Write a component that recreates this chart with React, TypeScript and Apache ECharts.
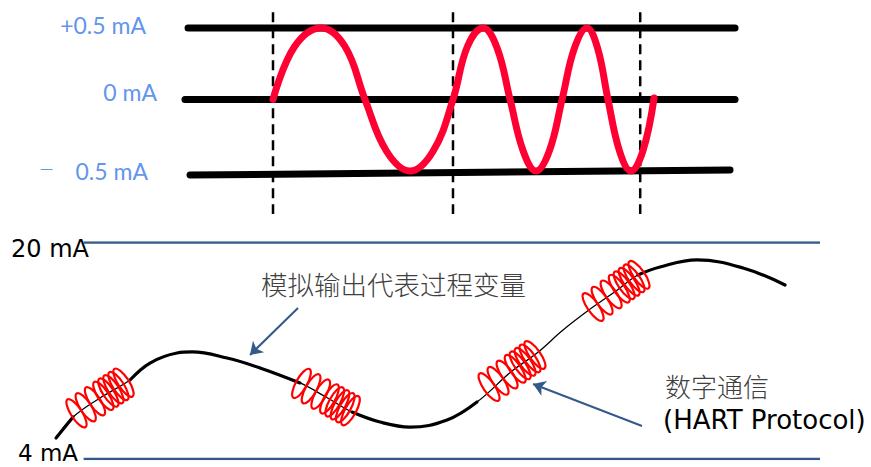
import React, { useEffect, useRef } from 'react';
import * as echarts from 'echarts';

// ---------- Top panel: FSK signal (x in bit times, y in mA) ----------
const railTop: [number, number][] = [[-0.472, 0.5], [2.567, 0.5]];
const railMid: [number, number][] = [[-0.489, 0.0], [2.567, 0.0]];
const railBottom: [number, number][] = [[-0.461, -0.528], [2.539, -0.493]];
const bitBoundaries: number[] = [0, 1, 2.04];
const dividerSpan: [number, number] = [0.61, -0.8];
const fskWave: [number, number][] = [
  [0.0, 0], [0.12, 0.37], [0.267, 0.5], [0.4, 0.37], [0.511, 0], [0.63, -0.36], [0.761, -0.5], [0.89, -0.36],
  [1.0, 0], [1.08, 0.37], [1.167, 0.5], [1.245, 0.36], [1.317, 0], [1.39, -0.36], [1.461, -0.5], [1.535, -0.36],
  [1.606, 0], [1.675, 0.36], [1.744, 0.5], [1.803, 0.36], [1.861, 0], [1.925, -0.36], [1.989, -0.5], [2.055, -0.36],
  [2.117, 0.01],
];
const levelLabels: string[] = ['+0.5 mA', '0 mA', '0.5 mA'];
const minusSign = '—';

// ---------- Bottom panel: 4-20 mA loop (x in time units, y in mA) ----------
const loopLimits: number[] = [20, 4];
const loopSpan: [number, number] = [1.0, 11.0];
const analogCurve: [number, number][] = [
  [0.625, 5.55], [0.856, 7.10], [1.222, 8.51], [1.630, 9.84], [1.901, 11.09], [2.268, 11.83],
  [2.472, 11.91], [2.947, 11.46], [3.395, 10.73], [3.938, 9.62], [4.291, 8.58], [4.645, 7.47],
  [5.025, 6.73], [5.432, 6.36], [5.935, 6.88], [6.342, 8.21], [6.817, 10.50], [7.157, 11.83],
  [7.510, 13.53], [7.917, 15.23], [8.230, 16.42], [8.528, 17.60], [8.827, 18.19], [9.330, 18.71],
  [9.955, 18.12], [10.525, 16.86],
];
// thick parts of the curve (index ranges into analogCurve)
const thickParts: [number, number][] = [[0, 1], [3, 9], [11, 15], [21, 25]];
// HART bursts: [time, mA, direction in degrees]
const hartBursts: [number, number, number][] = [
  [1.222, 8.51, 33],
  [4.291, 8.58, -29],
  [6.817, 10.50, 35],
  [8.230, 16.42, 35],
];
const pointerArrows: [number, number][][] = [
  [[3.911, 15.16], [3.259, 11.69]],
  [[8.583, 6.44], [7.103, 9.54]],
];
const axisLabelsBottom: string[] = ['20 mA', '4 mA'];
const analogCaption = '模拟输出代表过程变量';
const digitalCaption = '数字通信';
const protocolCaption = '(HART Protocol)';

const loopOffsets = [-28, -17, -6, 4, 10, 16, 22, 28];

export default function App() {
  const ref = useRef<HTMLDivElement>(null);
  useEffect(() => {
    if (!ref.current) return;
    const chart = echarts.init(ref.current, null, { renderer: 'svg' });
    const blue = '#6495ED';
    const navy = '#335A8A';
    const latin = 'Lato, "Noto Sans", sans-serif';
    const comic = '"DejaVu Sans", sans-serif';
    const cjk = '"Noto Sans CJK SC", sans-serif';

    const topLine = (data: [number, number][], extra: any = {}) => ({
      type: 'line', xAxisIndex: 0, yAxisIndex: 0, data, symbol: 'none', silent: true,
      lineStyle: { color: '#000', width: 7, cap: 'round' }, ...extra,
    });

    const series: any[] = [
      topLine(railTop),
      topLine(railMid),
      topLine(railBottom),
      ...bitBoundaries.map((b) => ({
        type: 'line', xAxisIndex: 0, yAxisIndex: 0, symbol: 'none', silent: true, clip: false,
        data: [[b, dividerSpan[0]], [b, dividerSpan[1]]],
        lineStyle: { color: '#000', width: 2.5, type: [10, 6] },
      })),
      {
        type: 'line', xAxisIndex: 0, yAxisIndex: 0, data: fskWave, symbol: 'none', silent: true,
        smooth: 0.4, z: 5,
        lineStyle: { color: '#FF0033', width: 7, cap: 'round', join: 'round' },
      },
      ...loopLimits.map((v) => ({
        type: 'line', xAxisIndex: 1, yAxisIndex: 1, symbol: 'none', silent: true,
        data: [[loopSpan[0], v], [loopSpan[1], v]],
        lineStyle: { color: navy, width: 2.5 },
      })),
      {
        type: 'line', xAxisIndex: 1, yAxisIndex: 1, data: analogCurve, symbol: 'none', silent: true,
        smooth: 0.4, lineStyle: { color: '#000', width: 1.3 },
      },
      ...thickParts.map(([a, b]) => ({
        type: 'line', xAxisIndex: 1, yAxisIndex: 1, data: analogCurve.slice(a, b + 1), symbol: 'none',
        silent: true, smooth: 0.4, lineStyle: { color: '#000', width: 3.2, cap: 'round' },
      })),
      {
        type: 'custom', xAxisIndex: 1, yAxisIndex: 1, data: hartBursts, silent: true, z: 6,
        encode: { x: 0, y: 1 },
        renderItem: (params: any, api: any) => {
          const p = api.coord([api.value(0), api.value(1)]);
          const ang = (api.value(2) * Math.PI) / 180;
          return {
            type: 'group', x: p[0], y: p[1], rotation: ang,
            children: loopOffsets.map((o) => ({
              type: 'ellipse',
              shape: { cx: o, cy: 0, rx: 5.5, ry: 16.5 },
              style: { fill: 'none', stroke: '#FF0000', lineWidth: 2.2 },
            })),
          };
        },
      },
      {
        type: 'lines', coordinateSystem: 'cartesian2d', xAxisIndex: 1, yAxisIndex: 1, silent: true,
        symbol: ['none', 'arrow'], symbolSize: 12, z: 7,
        lineStyle: { color: navy, width: 2, opacity: 1, curveness: 0 },
        data: pointerArrows.map((c) => ({ coords: c })),
      },
    ];

    const txt = (text: string, x: number, y: number, font: string, fill: string, align = 'left') => ({
      type: 'text', x, y, silent: true, z: 10,
      style: { text, font, fill, align, verticalAlign: 'middle' },
    });

    chart.setOption({
      animation: false,
      backgroundColor: '#fff',
      grid: [
        { left: 183, top: 10, width: 558, height: 204 },
        { left: 10, top: 242.5, width: 810, height: 216.5 },
      ],
      xAxis: [
        { type: 'value', gridIndex: 0, min: -0.5, max: 2.6, show: false },
        { type: 'value', gridIndex: 1, min: 0, max: 11, show: false },
      ],
      yAxis: [
        { type: 'value', gridIndex: 0, min: -0.8, max: 0.625, show: false },
        { type: 'value', gridIndex: 1, min: 4, max: 20, show: false },
      ],
      series,
      graphic: [
        txt(levelLabels[0], 146, 25, `23px ${latin}`, blue, 'right'),
        txt(levelLabels[1], 157, 92, `23px ${latin}`, blue, 'right'),
        txt(levelLabels[2], 148, 171, `23px ${latin}`, blue, 'right'),
        txt(minusSign, 40, 168, `13px "DejaVu Sans", sans-serif`, blue, 'left'),
        txt(axisLabelsBottom[0], 11, 249, `24px ${comic}`, '#000', 'left'),
        txt(axisLabelsBottom[1], 18, 453, `23px ${comic}`, '#000', 'left'),
        txt(analogCaption, 261, 283, `300 26.5px ${cjk}`, '#404040', 'left'),
        txt(digitalCaption, 665, 385, `300 26px ${cjk}`, '#404040', 'left'),
        txt(protocolCaption, 663, 420, `26px ${comic}`, '#000', 'left'),
      ],
    });
    return () => chart.dispose();
  }, []);
  return (
    <div
      ref={ref}
      style={{ position: 'fixed', left: 0, top: 0, width: 871, height: 467, background: '#fff' }}
    />
  );
}
